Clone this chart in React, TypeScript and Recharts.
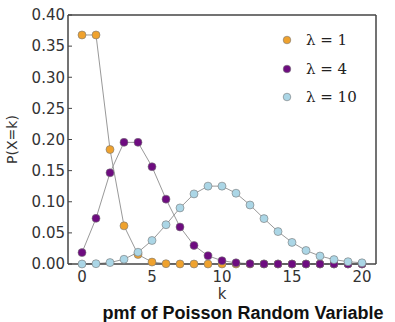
import { Legend, Line, LineChart, XAxis, YAxis } from 'recharts';

// Poisson pmf values for k = 0..20
const ks = [0, 1, 2, 3, 4, 5, 6, 7, 8, 9, 10, 11, 12, 13, 14, 15, 16, 17, 18, 19, 20];
const pmfLambda1 = [
  0.3679, 0.3679, 0.1839, 0.0613, 0.0153, 0.0031, 0.0005, 0.0001, 0, 0, 0, 0, 0, 0, 0, 0, 0, 0, 0, 0, 0,
];
const pmfLambda4 = [
  0.0183, 0.0733, 0.1465, 0.1954, 0.1954, 0.1563, 0.1042, 0.0595, 0.0298, 0.0132, 0.0053, 0.0019, 0.0006,
  0.0002, 0.0001, 0, 0, 0, 0, 0, 0,
];
const pmfLambda10 = [
  0.0000454, 0.0005, 0.0023, 0.0076, 0.0189, 0.0378, 0.0631, 0.0901, 0.1126, 0.1251, 0.1251, 0.1137, 0.0948,
  0.0729, 0.0521, 0.0347, 0.0217, 0.0128, 0.0071, 0.0037, 0.0019,
];
const xTicks = [0, 5, 10, 15, 20];
const yTicks = [0, 0.05, 0.1, 0.15, 0.2, 0.25, 0.3, 0.35, 0.4];

const series = [
  { key: 'l1', label: 'λ = 1', color: '#EFA22E' },
  { key: 'l4', label: 'λ = 4', color: '#6E0C80' },
  { key: 'l10', label: 'λ = 10', color: '#ABD6E6' },
];

const data = ks.map((k, i) => ({ k, l1: pmfLambda1[i], l4: pmfLambda4[i], l10: pmfLambda10[i] }));

const tickFont = { fontFamily: 'DejaVu Sans', fontSize: 15, fill: '#333' };
const frame = { stroke: '#444', strokeWidth: 1.5 };

function LegendBox() {
  return (
    <div style={{ fontFamily: 'DejaVu Serif', fontSize: 15, color: '#222' }}>
      {series.map((s) => (
        <div key={s.key} style={{ display: 'flex', alignItems: 'center', height: 28.5 }}>
          <svg width={14} height={14} style={{ marginRight: 12 }}>
            <circle cx={7} cy={7} r={3.8} fill={s.color} stroke="#777" strokeWidth={0.6} />
          </svg>
          <span>{s.label}</span>
        </div>
      ))}
    </div>
  );
}

export default function App() {
  return (
    <div style={{ position: 'absolute', left: 0, top: 0, width: 395, height: 322, background: '#fff' }}>
      <LineChart width={395} height={322} data={data} margin={{ top: 14, right: 18, bottom: 0, left: 0 }}>
        <XAxis
          dataKey="k"
          type="number"
          domain={[-1, 21]}
          ticks={xTicks}
          height={58}
          axisLine={frame}
          tickLine={{ stroke: '#444' }}
          tickSize={-4}
          tickMargin={11}
          tick={tickFont}
          label={{ value: 'k', position: 'insideBottom', offset: 23, style: { fontFamily: 'DejaVu Sans', fontSize: 15, fill: '#333' } }}
        />
        <XAxis
          xAxisId="top"
          dataKey="k"
          orientation="top"
          type="number"
          domain={[-1, 21]}
          ticks={xTicks}
          height={1}
          axisLine={frame}
          tickLine={{ stroke: '#444' }}
          tickSize={-4}
          tick={false}
        />
        <YAxis
          type="number"
          domain={[0, 0.4]}
          ticks={yTicks}
          width={68}
          axisLine={frame}
          tickLine={{ stroke: '#444' }}
          tickSize={-4}
          tickMargin={7}
          tick={tickFont}
          tickFormatter={(v: number) => v.toFixed(2)}
          label={{
            value: 'P(X=k)',
            angle: -90,
            position: 'insideLeft',
            offset: 12,
            style: { fontFamily: 'DejaVu Sans', fontSize: 14, fill: '#333', textAnchor: 'middle' },
          }}
        />
        <YAxis
          yAxisId="right"
          orientation="right"
          type="number"
          domain={[0, 0.4]}
          ticks={yTicks}
          width={1}
          axisLine={frame}
          tickLine={{ stroke: '#444' }}
          tickSize={-4}
          tick={false}
        />
        {/* invisible series so the top/right frame axes get drawn */}
        <Line
          xAxisId="top"
          yAxisId="right"
          dataKey="l10"
          stroke="none"
          dot={false}
          activeDot={false}
          legendType="none"
          isAnimationActive={false}
        />
        {series.map((s) => (
          <Line
            key={s.key}
            dataKey={s.key}
            type="linear"
            stroke="#999"
            strokeWidth={1}
            dot={{ r: 4, fill: s.color, stroke: '#777', strokeWidth: 0.6, fillOpacity: 1 }}
            isAnimationActive={false}
          />
        ))}
        <Legend
          layout="vertical"
          align="center"
          verticalAlign="middle"
          content={() => <LegendBox />}
          wrapperStyle={{ top: 26, left: 280, width: 100 }}
        />
      </LineChart>
      <div
        style={{
          position: 'absolute',
          top: 304,
          left: 58,
          width: 370,
          textAlign: 'center',
          fontFamily: 'Liberation Sans',
          fontWeight: 'bold',
          fontSize: 18,
          lineHeight: '18px',
          color: '#111',
        }}
      >
        pmf of Poisson Random Variable
      </div>
    </div>
  );
}
